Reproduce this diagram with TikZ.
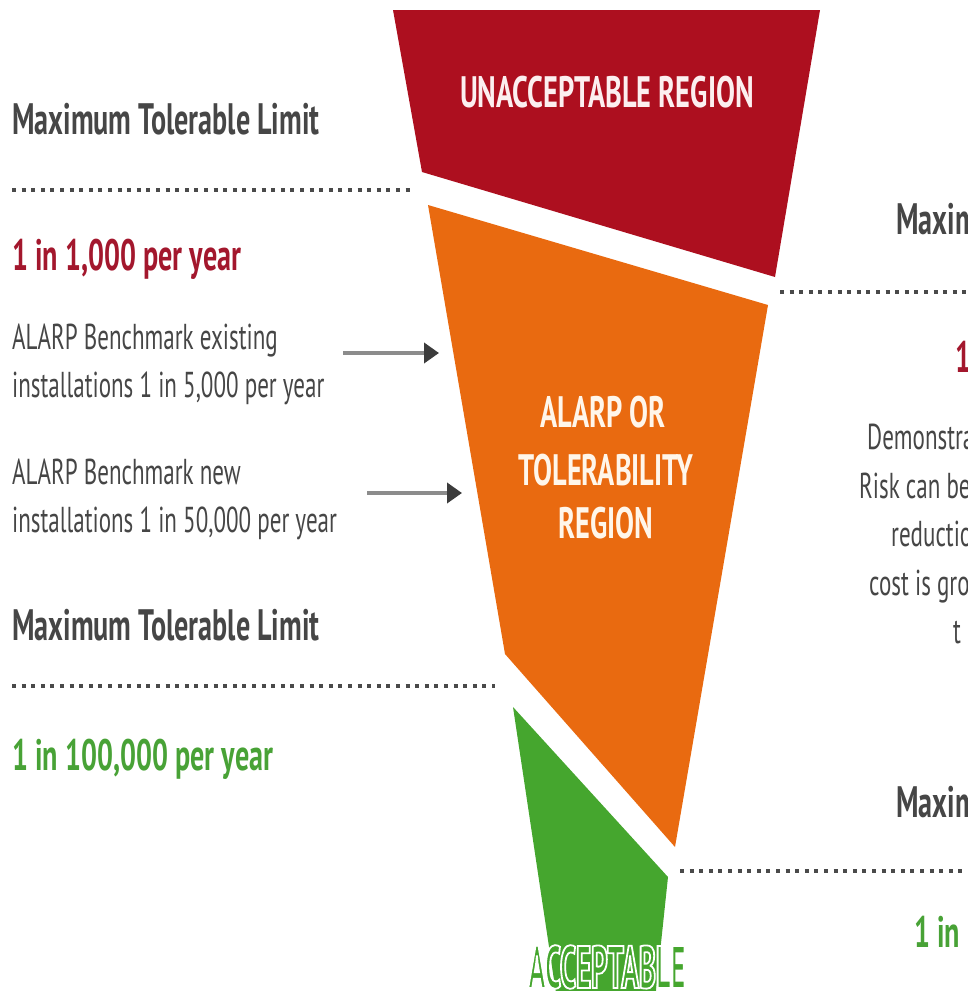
\documentclass[tikz,border=0pt]{standalone}
\usepackage{fontspec}
\usetikzlibrary{arrows.meta}
\newfontfamily\cond[FakeStretch=0.64]{PT Sans}
\newfontfamily\regfont[FakeStretch=0.645]{PT Sans}
\newfontfamily\narrowfont[FakeStretch=0.48]{PT Sans}
\definecolor{regred}{HTML}{AD0F1F}
\definecolor{regorange}{HTML}{E96A10}
\definecolor{reggreen}{HTML}{45A62E}
\definecolor{txtgray}{HTML}{464646}
\definecolor{txtred}{HTML}{A3172D}
\definecolor{txtgreen}{HTML}{48A236}
\definecolor{dotgray}{HTML}{4A4A4A}
\definecolor{arrgray}{HTML}{8C8C8C}
\definecolor{arrhead}{HTML}{3C3C3C}
\definecolor{cream}{HTML}{FFF6EA}
\definecolor{pinkwhite}{HTML}{FCEFF0}
\tikzset{
  headtext/.style={font=\cond\bfseries\fontsize{44}{44}\selectfont, text=txtgray, anchor=base west, inner sep=0pt},
  ratetext/.style={headtext},
  notetext/.style={font=\cond\fontsize{36}{36}\selectfont, text=txtgray, anchor=base west, inner sep=0pt},
  reglabel/.style={font=\regfont\bfseries\fontsize{44}{44}\selectfont, anchor=base, inner sep=0pt},
  dotline/.style={draw=dotgray, line width=3.5pt, dash pattern=on 4pt off 5.6pt},
  pointer/.style={draw=arrgray, line width=4pt, -{Triangle[length=15pt,width=20pt,color=arrhead,fill=arrhead]}},
}
\begin{document}
\begin{tikzpicture}[x=1pt,y=-1pt]
\useasboundingbox (0,0) rectangle (967,991);
\clip (0,0) rectangle (967,991);
% regions
\fill[regred] (393,10) -- (820,10) -- (775,277) -- (422,172) -- cycle;
\fill[regorange] (428,205) -- (768,305) -- (675,847) -- (505,654) -- cycle;
\fill[reggreen] (513,707) -- (668,877) -- (655,1000) -- (557,1000) -- cycle;
% region labels
\node[reglabel, text=pinkwhite] (unacc) at (607,107) {UNACCEPTABLE REGION};
\node[reglabel, text=cream] (alarpA) at (603,427) {ALARP OR};
\node[reglabel, text=cream] (alarpB) at (606,485) {TOLERABILITY};
\node[reglabel, text=cream] (alarpC) at (606,538) {REGION};
\node[anchor=base, inner sep=0pt, font=\narrowfont\bfseries\fontsize{60}{60}\selectfont] (acc) at (607,988)
  {\textcolor{reggreen}{\special{pdf:literal direct 1 1 1 RG 2 Tr 1.8 w}ACCEPTABLE\special{pdf:literal direct 0 Tr}}};
% left side
\node[headtext] (maxA) at (12,134) {Maximum Tolerable Limit};
\coordinate (dA1) at (12,190); \coordinate (dA2) at (412,190);
\draw[dotline] (dA1) -- (dA2);
\node[ratetext, text=txtred] (rateA) at (12,270) {1 in 1,000 per year};
\node[notetext] (benchAa) at (12,349) {ALARP Benchmark existing};
\node[notetext] (benchAb) at (12,397) {installations 1 in 5,000 per year};
\coordinate (arrAs) at (343,353); \coordinate (arrAe) at (439,353);
\draw[pointer] (arrAs) -- (arrAe);
\node[notetext] (benchBa) at (12,484) {ALARP Benchmark new};
\node[notetext] (benchBb) at (12,532) {installations 1 in 50,000 per year};
\coordinate (arrBs) at (367,493); \coordinate (arrBe) at (462,493);
\draw[pointer] (arrBs) -- (arrBe);
\node[headtext] (maxB) at (12,640) {Maximum Tolerable Limit};
\coordinate (dB1) at (12,686); \coordinate (dB2) at (495,686);
\draw[dotline] (dB1) -- (dB2);
\node[ratetext, text=txtgreen] (rateC) at (12,770) {1 in 100,000 per year};
% right side
\node[headtext] (maxR1) at (896,234) {Maximum};
\coordinate (dC1) at (780,292); \coordinate (dC2) at (970,292);
\draw[dotline] (dC1) -- (dC2);
\node[ratetext, text=txtred] (rateR1) at (955,372) {1};
\node[notetext] (demA) at (867,449) {Demonstrate};
\node[notetext] (demB) at (859,498) {Risk can be};
\node[notetext] (demC) at (891,546) {reduction};
\node[notetext] (demD) at (869,595) {cost is gross};
\node[notetext] (demE) at (953,643) {t};
\node[headtext] (maxR2) at (896,817) {Maximum};
\coordinate (dD1) at (680,871); \coordinate (dD2) at (970,871);
\draw[dotline] (dD1) -- (dD2);
\node[ratetext, text=txtgreen] (rateR2) at (914,947) {1 in};
\end{tikzpicture}
\end{document}
